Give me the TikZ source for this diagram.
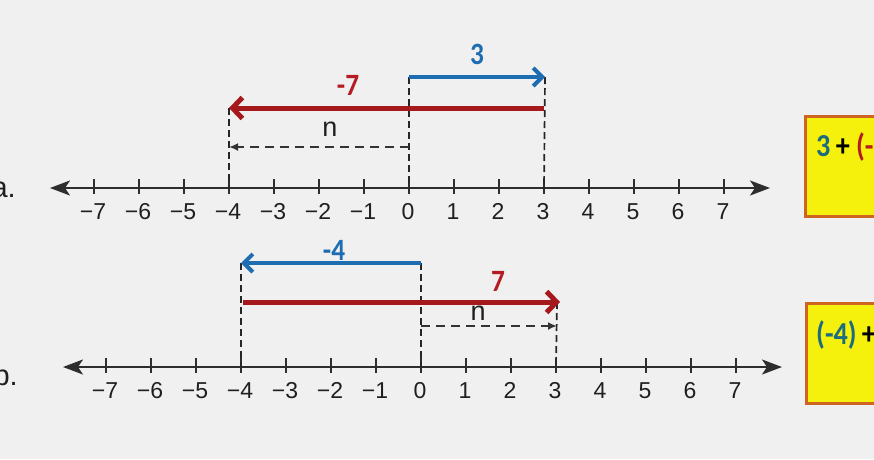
\documentclass[tikz,border=0pt]{standalone}
\usepackage{fontspec}
\setmainfont{Liberation Sans}
\newfontfamily\lblfont[FakeStretch=0.88]{Carlito}
\usetikzlibrary{arrows.meta,calc}
\definecolor{bgc}{RGB}{240,240,240}
\definecolor{axc}{RGB}{45,45,45}
\definecolor{blueC}{RGB}{30,108,178}
\definecolor{redC}{RGB}{165,24,28}
\definecolor{redT}{RGB}{180,28,34}
\definecolor{tealC}{RGB}{28,108,128}
\definecolor{boxfill}{RGB}{245,240,12}
\definecolor{boxedge}{RGB}{205,100,32}
\tikzset{
  axisline/.style={draw=axc,line width=2.2pt,{Stealth[length=20pt,width=15pt,inset=5pt]}-{Stealth[length=20pt,width=15pt,inset=5pt]}},
  tickmark/.style={draw=axc,line width=1.6pt},
  ticklab/.style={font=\fontsize{23}{24}\selectfont,text=black!88,inner sep=0pt,anchor=base},
  sidelab/.style={font=\fontsize{29}{30}\selectfont,text=black!88,inner sep=0pt,anchor=base east},
  bluearr/.style={draw=blueC,line width=4pt,-{Straight Barb[length=9pt,width=18pt]}},
  redarr/.style={draw=redC,line width=5pt,-{Straight Barb[length=10pt,width=21pt]}},
  vdash/.style={draw=black!85,line width=1.7pt,dash pattern=on 7pt off 4pt},
  narr/.style={draw=black!80,line width=2pt,dash pattern=on 9pt off 6pt,-{Latex[length=9pt,width=8pt]}},
  numlab/.style={font=\lblfont\bfseries\fontsize{31}{32}\selectfont,inner sep=0pt},
  nlab/.style={font=\fontsize{27}{28}\selectfont,text=black!88,inner sep=0pt},
  boxframe/.style={draw=boxedge,fill=boxfill,line width=3pt,minimum width=110pt,minimum height=100pt,anchor=north west,inner sep=0pt},
  boxtext/.style={font=\lblfont\bfseries\fontsize{32}{34}\selectfont,inner sep=0pt,anchor=west}
}
\begin{document}
\begin{tikzpicture}[x=1pt,y=-1pt]
\useasboundingbox (0,0) rectangle (874,459);
\clip (0,0) rectangle (874,459);
\fill[bgc] (0,0) rectangle (874,459);

% ---------------- line a ----------------
\coordinate (aL) at (50,188);
\coordinate (aR) at (770,188);
\draw[axisline] (aL) -- (aR);
\foreach \i [count=\k from 0] in {-7,...,7} {
  \coordinate (a\k) at ({409+45*\i},188);
  \draw[tickmark] (a\k) ++(0,-9) -- ++(0,15);
  \node[ticklab] (la\k) at ($(a\k)+(-1,31)$) {\ifnum\i<0 −\number-\i\else\i\fi};
}
\node[sidelab] (lblA) at (16,197) {a.};

\coordinate (aB0) at (409,77);
\coordinate (aB3) at (545,77);
\coordinate (aR3) at (544,108);
\coordinate (aRm4) at (229,108);
\coordinate (aN0) at (409,147);
\coordinate (aNm4) at (229,147);
\draw[vdash] (aB0) -- (a7);
\draw[vdash] (aB3) -- (a10);
\draw[vdash] (aRm4) -- (a3);
\draw[redarr] (aR3) -- (aRm4);
\draw[bluearr] (aB0) -- (aB3);
\draw[narr] (aN0) -- (aNm4);
\node[numlab,text=blueC] (t3) at (477,54) {3};
\node[numlab,text=redT] (tm7) at (348,85) {-7};
\node[nlab] (nA) at (330,129) {n};

\node[boxframe] (boxA) at (804,115) {};
\node[boxtext] (boxAt) at (816,147) {\textcolor{tealC}{3}\,+ \textcolor{redT}{(-}};

% ---------------- line b ----------------
\coordinate (bL) at (63,367);
\coordinate (bR) at (782,367);
\draw[axisline] (bL) -- (bR);
\foreach \i [count=\k from 0] in {-7,...,7} {
  \coordinate (b\k) at ({421+45*\i},367);
  \draw[tickmark] (b\k) ++(0,-9) -- ++(0,15);
  \node[ticklab] (lb\k) at ($(b\k)+(-1,31)$) {\ifnum\i<0 −\number-\i\else\i\fi};
}
\node[sidelab] (lblB) at (18,385) {b.};

\coordinate (bB0) at (421,263);
\coordinate (bBm4) at (241,263);
\coordinate (bRm4) at (243,302);
\coordinate (bR3) at (560,302);
\coordinate (bRt) at (557,302);
\coordinate (bN0) at (421,326);
\coordinate (bN3) at (557,326);
\draw[vdash] (bBm4) -- (b3);
\draw[vdash] (bB0) -- (b7);
\draw[vdash] (bRt) -- (b10);
\draw[redarr] (bRm4) -- (bR3);
\draw[bluearr] (bB0) -- (bBm4);
\draw[narr] (bN0) -- (bN3);
\node[numlab,text=blueC] (tm4) at (334,250) {-4};
\node[numlab,text=redT] (t7) at (498,281) {7};
\node[nlab] (nB) at (478,313) {n};

\node[boxframe] (boxB) at (805,302) {};
\node[boxtext] (boxBt) at (816,335) {\textcolor{tealC}{(-4)}\,+};
\end{tikzpicture}
\end{document}
